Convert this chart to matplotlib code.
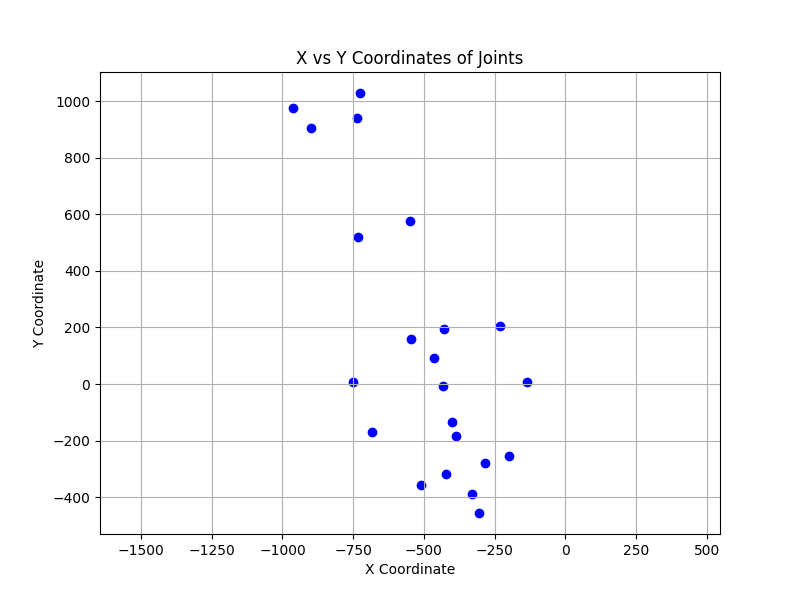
import matplotlib
matplotlib.use("Agg")
import matplotlib.pyplot as plt

x_vals = [-963, -726, -899, -736, -549, -733, -428, -230, -545, -464, -750,
          -432, -135, -400, -683, -386, -198, -283, -421, -510, -329, -304]
y_vals = [976, 1029, 905, 940, 576, 520, 194, 205, 159, 92, 7,
          -7, 7, -134, -170, -184, -255, -279, -318, -357, -389, -456]

fig, ax = plt.subplots(figsize=(8, 6), dpi=100)
ax.scatter(x_vals, y_vals, color='blue')
ax.set_title('X vs Y Coordinates of Joints')
ax.set_xlabel('X Coordinate')
ax.set_ylabel('Y Coordinate')
ax.grid(True)
ax.axis('equal')
fig.savefig('out.png')
